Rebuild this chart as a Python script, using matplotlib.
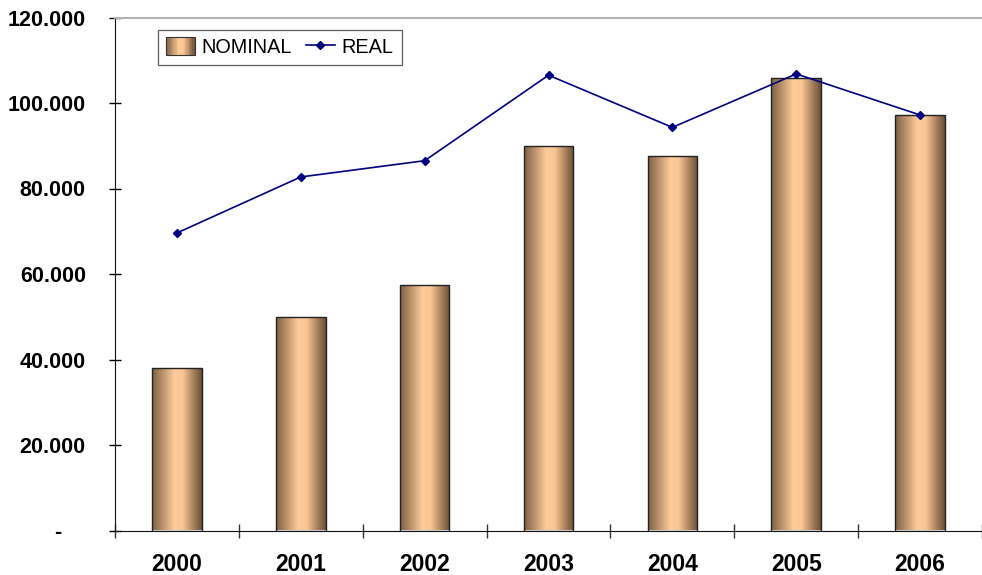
import numpy as np
import matplotlib
matplotlib.use("Agg")
import matplotlib.pyplot as plt
from matplotlib.patches import Rectangle
from matplotlib.legend_handler import HandlerBase
from matplotlib.colors import LinearSegmentedColormap

plt.rcParams['font.family'] = ['Liberation Sans', 'DejaVu Sans']

# data
years = ['2000', '2001', '2002', '2003', '2004', '2005', '2006']
nominal = [37900, 50000, 57500, 90000, 87600, 105800, 97100]
real = [69600, 82700, 86500, 106500, 94300, 106800, 97200]
yticks = [0, 20000, 40000, 60000, 80000, 100000, 120000]

# cylinder-like shading for bars
shade = LinearSegmentedColormap.from_list(
    'cyl', [(0.0, '#7d5f44'), (0.18, '#b08a66'), (0.45, '#ffcc99'),
            (0.62, '#f8c593'), (0.85, '#a07a58'), (1.0, '#6b4f36')])
grad = np.linspace(0, 1, 256).reshape(1, -1)


class GradientHandler(HandlerBase):
    def create_artists(self, legend, orig_handle, xdescent, ydescent,
                       width, height, fontsize, trans):
        n = 24
        arts = []
        for i in range(n):
            r = Rectangle((-xdescent + width * i / n, -ydescent), width / n + 0.3,
                          height, facecolor=shade((i + 0.5) / n), edgecolor='none',
                          transform=trans)
            arts.append(r)
        arts.append(Rectangle((-xdescent, -ydescent), width, height, facecolor='none',
                              edgecolor='#333333', lw=0.8, transform=trans))
        return arts


fig = plt.figure(figsize=(9.82, 5.75), dpi=100)
ax = fig.add_axes([115 / 982, 44.5 / 575, 1 - 115 / 982, 513 / 575])

x = np.arange(len(years))
bars = ax.bar(x, nominal, width=0.4, color='none', edgecolor='#222222', lw=1.0, zorder=3)
for b in bars:
    x0, w, h = b.get_x(), b.get_width(), b.get_height()
    im = ax.imshow(grad, cmap=shade, aspect='auto', extent=(x0, x0 + w, 0, h),
                   zorder=2, interpolation='bilinear')
    im.set_clip_path(b)

ax.plot(x, real, color='#000080', lw=1.2, marker='D', markersize=4.5, zorder=4)

ax.set_xlim(-0.5, 6.46)
ax.set_ylim(0, 120000)
ax.set_yticks(yticks)
ax.set_yticklabels(['-    ' if v == 0 else f'{v:,}'.replace(',', '.') for v in yticks],
                   fontsize=15.5, fontweight='bold')
ax.tick_params(axis='y', direction='inout', length=9, width=1, pad=16.5)

ax.set_xticks(np.arange(len(years) + 1) - 0.5)
ax.set_xticklabels([])
ax.tick_params(axis='x', which='major', direction='inout', length=10, width=1, color='#333333')
ax.set_xticks(x, minor=True)
ax.set_xticklabels(years, minor=True, fontsize=16.5, fontweight='bold')
ax.tick_params(axis='x', which='minor', length=0, pad=16)

ax.spines['right'].set_visible(False)
ax.spines['top'].set_color('#b4b4b4')
ax.spines['top'].set_linewidth(1.5)
ax.spines['left'].set_color('#111111')
ax.spines['bottom'].set_color('#111111')

leg_nom = Rectangle((0, 0), 1, 1)
line_real, = ax.plot([], [], color='#000080', lw=1.2, marker='D', markersize=4.5)
leg = ax.legend([leg_nom, line_real], ['NOMINAL', 'REAL'], ncol=2,
                handler_map={Rectangle: GradientHandler()},
                loc='upper left', bbox_to_anchor=(43 / 867, 1 - 12 / 513),
                frameon=True, fancybox=False, fontsize=14.3, handlelength=1.45,
                handleheight=1.0, handletextpad=0.35, columnspacing=0.7,
                borderpad=0.4, borderaxespad=0)
leg.get_frame().set_edgecolor('#333333')
leg.get_frame().set_linewidth(0.9)

fig.savefig('out.png', dpi=100)
